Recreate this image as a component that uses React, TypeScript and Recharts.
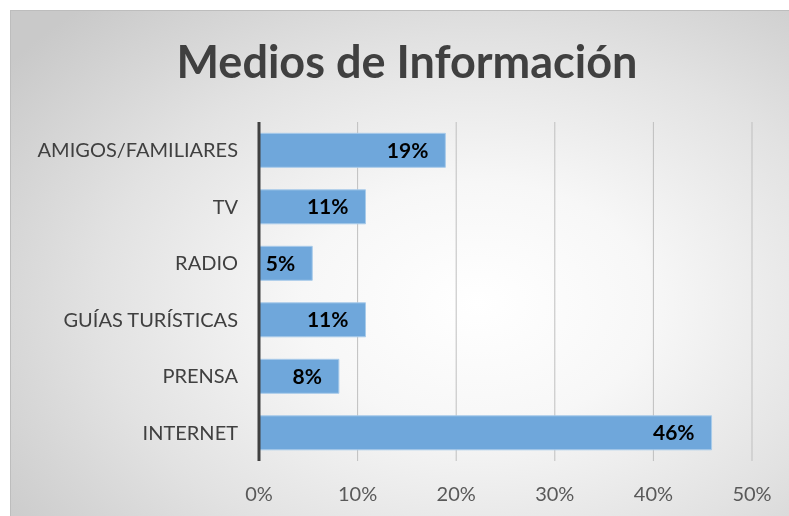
import { BarChart, Bar, XAxis, YAxis, CartesianGrid, LabelList } from "recharts";

const categories = [
  "AMIGOS/FAMILIARES",
  "TV",
  "RADIO",
  "GUÍAS TURÍSTICAS",
  "PRENSA",
  "INTERNET",
];
const shares = [18.9, 10.8, 5.4, 10.8, 8.1, 45.9];
const xTicks = [0, 10, 20, 30, 40, 50];

const data = categories.map((name, i) => ({ name, value: shares[i] }));

const font = "Lato, 'Open Sans', sans-serif";

export default function App() {
  return (
    <div
      style={{
        position: "fixed",
        left: 10,
        top: 10,
        width: 779,
        height: 506,
        borderTop: "1px solid #bdbdbd",
        borderLeft: "1px solid #bdbdbd",
        boxSizing: "border-box",
        background:
          "radial-gradient(ellipse 75% 80% at 60% 58%, #ffffff 0%, #f7f7f7 30%, #e2e2e2 65%, #c9c9c9 100%)",
        fontFamily: font,
        overflow: "hidden",
      }}
    >
      {/* Title */}
      <div
        style={{
          position: "absolute",
          left: 0,
          width: 792,
          top: 22,
          textAlign: "center",
          fontSize: 45,
          fontWeight: 700,
          color: "#404040",
          lineHeight: "56px",
        }}
      >
        Medios de Información
      </div>

      <div style={{ position: "absolute", left: -1, top: -1 }}>
        <BarChart
          width={779}
          height={506}
          data={data}
          layout="vertical"
          margin={{ top: 112, right: 37, bottom: 0, left: 0 }}
          barCategoryGap="20%"
        >
          <CartesianGrid horizontal={false} stroke="#bfbfbf" strokeWidth={1} />
          <XAxis
            type="number"
            domain={[0, 50]}
            ticks={xTicks}
            tickFormatter={(v) => `${v}%`}
            axisLine={false}
            tickLine={false}
            height={55}
            tickMargin={20}
            tick={{ fill: "#595959", fontSize: 20, fontFamily: font }}
          />
          <YAxis
            type="category"
            dataKey="name"
            width={249}
            axisLine={{ stroke: "#404040", strokeWidth: 3 }}
            tickLine={false}
            tickMargin={15}
            tick={{ fill: "#404040", fontSize: 20, fontFamily: font }}
          />
          <Bar
            dataKey="value"
            fill="#6fa7db"
            stroke="#a9cbea"
            strokeWidth={1}
            isAnimationActive={false}
          >
            <LabelList
              dataKey="value"
              position="insideRight"
              offset={17}
              formatter={(v: number) => `${Math.round(v)}%`}
              style={{ fill: "#000000", fontSize: 21, fontWeight: 700, fontFamily: font }}
            />
          </Bar>
        </BarChart>
      </div>
    </div>
  );
}
